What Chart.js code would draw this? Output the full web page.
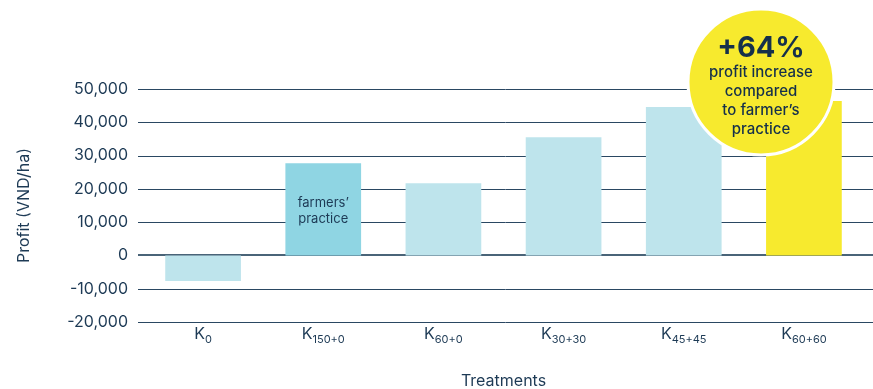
<!DOCTYPE html>
<html lang="en">
  <head>
    <meta charset="UTF-8" />
    <title>Profit by treatment</title>
    <script src="https://cdn.jsdelivr.net/npm/chart.js"></script>
    <style>
      body {
        margin: 0;
        padding: 0;
        background-color: #ffffff;
      }
      .chart-box {
        position: relative;
        width: 873px;
        height: 389px;
      }
    </style>
  </head>
  <body>
    <div class="chart-box">
      <canvas id="profit-chart"></canvas>
    </div>

    <script>
      // data
      const treatments = ["K", "K", "K", "K", "K", "K"];
      const treatmentSubs = ["0", "150+0", "60+0", "30+30", "45+45", "60+60"];
      const profits = [-7700, 27700, 21700, 35500, 44600, 46400];
      const barColors = ["#bee4ec", "#8fd5e3", "#bee4ec", "#bee4ec", "#bee4ec", "#f7ea2e"];
      const farmerNote = ["farmers’", "practice"];
      const calloutHead = "+64%";
      const calloutLines = ["profit increase", "compared", "to farmer’s", "practice"];

      const inkColor = "#1d3a55";
      const fontName = "Inter, 'Noto Sans', sans-serif";

      const extrasPlugin = {
        id: "extras",
        beforeDatasetsDraw(chart) {
          const ctx = chart.ctx;
          const yScale = chart.scales.y;
          const area = chart.chartArea;
          ctx.save();
          yScale.ticks.forEach((tick) => {
            const py = yScale.getPixelForValue(tick.value);
            const isZero = tick.value === 0;
            ctx.beginPath();
            ctx.lineWidth = isZero ? 2 : 1;
            ctx.strokeStyle = isZero ? "#4a6478" : "#2a4762";
            const yy = isZero ? Math.round(py) : Math.round(py) + 0.5;
            ctx.moveTo(area.left - 5, yy);
            ctx.lineTo(chart.width, yy);
            ctx.stroke();
          });
          ctx.restore();
        },
        afterDraw(chart) {
          const ctx = chart.ctx;
          const xScale = chart.scales.x;
          ctx.save();

          // category labels with subscripts
          ctx.fillStyle = inkColor;
          ctx.textBaseline = "alphabetic";
          treatments.forEach((name, i) => {
            const cx = xScale.getPixelForValue(i);
            ctx.font = "16px " + fontName;
            const mainW = ctx.measureText(name).width;
            ctx.font = "11px " + fontName;
            const subW = ctx.measureText(treatmentSubs[i]).width;
            const startX = cx - (mainW + subW) / 2;
            ctx.font = "16px " + fontName;
            ctx.textAlign = "left";
            ctx.fillText(name, startX, 339);
            ctx.font = "11px " + fontName;
            ctx.fillText(treatmentSubs[i], startX + mainW, 343);
          });

          // note inside the farmers' practice bar
          const fx = xScale.getPixelForValue(1);
          ctx.font = "13px " + fontName;
          ctx.textAlign = "center";
          ctx.textBaseline = "middle";
          ctx.fillText(farmerNote[0], fx, 203);
          ctx.fillText(farmerNote[1], fx, 219);

          // callout circle
          const cx = 761;
          const cy = 82;
          ctx.beginPath();
          ctx.arc(cx, cy, 73, 0, Math.PI * 2);
          ctx.fillStyle = "#f7ea2e";
          ctx.fill();
          ctx.lineWidth = 3;
          ctx.strokeStyle = "#ffffff";
          ctx.stroke();

          ctx.fillStyle = "#15304b";
          ctx.font = "bold 29px " + fontName;
          ctx.fillText(calloutHead, cx, 48);
          ctx.font = "500 15px " + fontName;
          calloutLines.forEach((line, i) => {
            ctx.fillText(line, cx, 72 + i * 19);
          });

          ctx.restore();
        },
      };

      new Chart(document.getElementById("profit-chart"), {
        type: "bar",
        data: {
          labels: treatments.map((t, i) => t + treatmentSubs[i]),
          datasets: [
            {
              data: profits,
              backgroundColor: barColors,
              borderWidth: 0,
              barPercentage: 0.63,
              categoryPercentage: 1,
            },
          ],
        },
        options: {
          responsive: true,
          maintainAspectRatio: false,
          animation: false,
          layout: {
            padding: { top: 89, right: 9, left: 0, bottom: 0 },
          },
          plugins: {
            legend: { display: false },
            tooltip: { enabled: false },
          },
          scales: {
            x: {
              grid: { display: false, drawTicks: false },
              border: { display: false },
              ticks: { display: false },
              title: {
                display: true,
                text: "Treatments",
                color: inkColor,
                font: { family: fontName, size: 16 },
                padding: { top: 0, bottom: -2 },
              },
              afterFit(scale) {
                scale.height = 67;
              },
            },
            y: {
              min: -20000,
              max: 50000,
              grid: { display: false, drawTicks: false },
              border: { display: false },
              ticks: {
                stepSize: 10000,
                padding: 15,
                color: inkColor,
                font: { family: fontName, size: 16 },
                callback: (v) => v.toLocaleString("en-US"),
              },
              title: {
                display: true,
                text: "Profit (VND/ha)",
                color: inkColor,
                font: { family: fontName, size: 16 },
                padding: { top: 15, bottom: 0 },
              },
              afterFit(scale) {
                scale.width = 143;
              },
            },
          },
        },
        plugins: [extrasPlugin],
      });
    </script>
  </body>
</html>
